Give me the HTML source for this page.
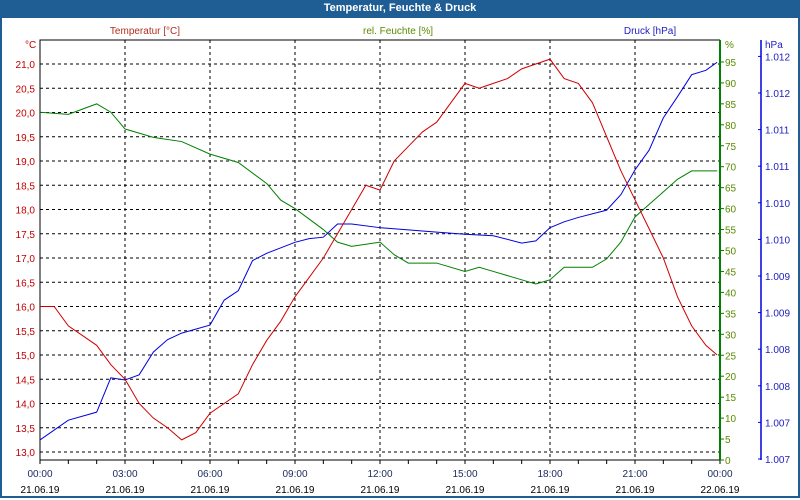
<!DOCTYPE html>
<html><head><meta charset="utf-8"><style>
body{margin:0;width:800px;height:500px;overflow:hidden;background:#fff;font-family:"Liberation Sans",sans-serif}
#wrap{position:absolute;left:0;top:0;width:796px;height:496px;border:2px solid #1f5e94;border-top:none}
#title{position:absolute;left:0;top:0;width:800px;height:18px;background:#1f5e94;color:#fff;font-weight:bold;font-size:11px;text-align:center;line-height:17px}
svg{position:absolute;left:0;top:0}
text{font-family:"Liberation Sans",sans-serif;font-size:10px}
</style></head><body>
<div id="wrap"></div>
<div id="title">Temperatur, Feuchte &amp; Druck</div>
<svg id="c" width="800" height="500"></svg>
<script>
const tempHours=[0,0.5,1,1.5,2,2.5,3,3.5,4,4.5,5,5.5,6,6.5,7,7.5,8,8.5,9,9.5,10,10.5,11,11.5,12,12.5,13,13.5,14,14.5,15,15.5,16,16.5,17,17.5,18,18.5,19,19.5,20,20.5,21,21.5,22,22.5,23,23.5,23.9];
const tempValues=[16.0,16.0,15.6,15.4,15.2,14.8,14.5,14.0,13.7,13.5,13.25,13.4,13.8,14.0,14.2,14.8,15.3,15.7,16.2,16.6,17.0,17.5,18.0,18.5,18.4,19.0,19.3,19.6,19.8,20.2,20.6,20.5,20.6,20.7,20.9,21.0,21.1,20.7,20.6,20.2,19.5,18.8,18.2,17.6,17.0,16.2,15.6,15.2,15.0];
const humHours=[0,1,2,2.5,3,4,5,6,7,8,8.5,9,10,10.5,11,12,12.5,13,14,15,15.5,16,17,17.5,18,18.5,19,19.5,20,20.5,21,21.5,22,22.5,23,23.9];
const humValues=[83,82.5,85,83,79,77,76,73,71,66,62,60,55,52,51,52,49,47,47,45,46,45,43,42,43,46,46,46,48,52,58,61,64,67,69,69];
const presHours=[0,1,2,2.5,3,3.5,4,4.5,5,6,6.5,7,7.5,8,9,9.5,10,10.5,11,12,13,14,15,16,17,17.5,18,18.5,19,20,20.5,21,21.5,22,22.5,23,23.5,23.9];
const presValues=[1007.26,1007.53,1007.64,1008.11,1008.08,1008.15,1008.46,1008.63,1008.72,1008.83,1009.17,1009.30,1009.71,1009.81,1009.96,1010.01,1010.03,1010.21,1010.21,1010.16,1010.13,1010.10,1010.07,1010.05,1009.95,1009.98,1010.16,1010.24,1010.30,1010.40,1010.61,1010.95,1011.22,1011.66,1011.95,1012.25,1012.31,1012.42];
const tempTicks=[13.0,13.5,14.0,14.5,15.0,15.5,16.0,16.5,17.0,17.5,18.0,18.5,19.0,19.5,20.0,20.5,21.0];
const humTicks=[0,5,10,15,20,25,30,35,40,45,50,55,60,65,70,75,80,85,90,95];
const presTicks=[1007.0,1007.5,1008.0,1008.5,1009.0,1009.5,1010.0,1010.5,1011.0,1011.5,1012.0,1012.5];
const timeLabels=["00:00","03:00","06:00","09:00","12:00","15:00","18:00","21:00","00:00"];
const dateLabels=["21.06.19","21.06.19","21.06.19","21.06.19","21.06.19","21.06.19","21.06.19","21.06.19","22.06.19"];

const X0=40,X1=720,Y0=40,Y1=460;
const xs=h=>X0+h*(X1-X0)/24;
const yT=t=>452-(t-13)*48.5;
const yH=v=>460-v*4.19;
const yP=p=>459-(p-1007)*73.2;
const svg=document.getElementById('c');
function el(tag,attrs,txt){const e=document.createElementNS('http://www.w3.org/2000/svg',tag);for(const k in attrs)e.setAttribute(k,attrs[k]);if(txt!==undefined)e.textContent=txt;svg.appendChild(e);return e;}

// grid
tempTicks.forEach(t=>{const g=el('line',{x1:X0,x2:X1,y1:yT(t),y2:yT(t),stroke:'#000','stroke-dasharray':'3,3'});


const l=el('text',{x:35,y:yT(t)+4,'text-anchor':'end',fill:'#c00000'},t.toFixed(1).replace('.',','));

});
for(let i=1;i<8;i++){const g=el('line',{x1:xs(i*3),x2:xs(i*3),y1:Y0,y2:Y1,stroke:'#000','stroke-dasharray':'3,3'});

}
// plot frame
const fr=el('path',{d:`M${X0},${Y1}V${Y0}H${X1}`,stroke:'#000',fill:'none'});


const xa=el('line',{x1:X0,x2:X1,y1:Y1,y2:Y1,stroke:'#000'});


for(let h=0;h<=24;h++){el('line',{x1:xs(h),x2:xs(h),y1:Y1,y2:Y1+4,stroke:'#000'});}
timeLabels.forEach((s,i)=>{const a=el('text',{x:xs(i*3),y:477,'text-anchor':'middle',fill:'#1a2a5a'},s);


const b=el('text',{x:xs(i*3),y:493,'text-anchor':'middle',fill:'#000'},dateLabels[i]);

});
// humidity axis
const ha=el('line',{x1:X1,x2:X1,y1:Y0,y2:Y1,stroke:'#008000','stroke-width':2});


humTicks.forEach(v=>{el('line',{x1:X1,x2:X1+4,y1:yH(v),y2:yH(v),stroke:'#008000'});
const l=el('text',{x:725,y:yH(v)+4,fill:'#5a8a00'},v);

});
el('text',{x:725,y:48,fill:'#5a8a00'},'%');
// pressure axis
const pa=el('line',{x1:761,x2:761,y1:Y0,y2:Y1,stroke:'#0000e0','stroke-width':1.5});


presTicks.forEach(p=>{el('line',{x1:758,x2:761,y1:yP(p),y2:yP(p),stroke:'#0000e0'});
const l=el('text',{x:765,y:yP(p)+4,fill:'#2020c0'},(Math.floor(p)/1000).toFixed(3));

});
el('text',{x:765,y:48,fill:'#2020c0'},'hPa');
el('text',{x:25,y:48,fill:'#c00000'},'°C');
// axis titles
[['Temperatur [°C]',145,'#b03020','temp-axis-title'],['rel. Feuchte [%]',398,'#5a8a00','humidity-axis-title'],['Druck [hPa]',650,'#2020c0','pressure-axis-title']].forEach(a=>{
const t=el('text',{x:a[1],y:34,'text-anchor':'middle',fill:a[2]},a[0]);

});
// series
function line(hs,vs,fy,col,name){const p=el('polyline',{points:hs.map((h,i)=>xs(h)+','+fy(vs[i])).join(' '),fill:'none',stroke:col,'stroke-width':1});

}
line(humHours,humValues,yH,'#008000','humidity-line');
line(presHours,presValues,yP,'#0000e0','pressure-line');
line(tempHours,tempValues,yT,'#d00000','temperature-line');
</script>
</body></html>
